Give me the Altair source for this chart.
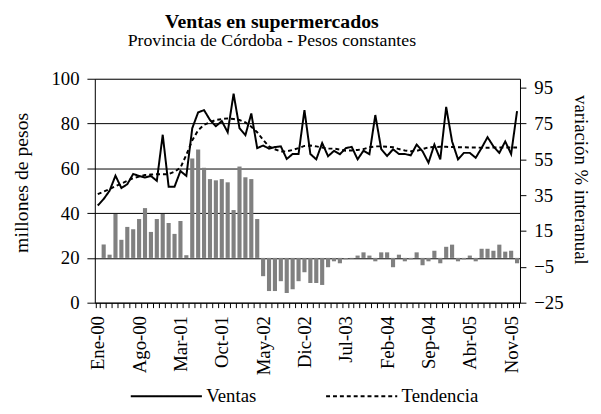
import altair as alt
import pandas as pd

meses = ["Ene", "Feb", "Mar", "Abr", "May", "Jun", "Jul", "Ago", "Sep", "Oct", "Nov", "Dic"]
anios = ["00", "01", "02", "03", "04", "05"]

ventas = [43.4, 46.3, 50.0, 56.7, 51.2, 52.9, 57.5, 56.6, 55.9, 56.6, 54.4, 75.0,
          51.8, 51.8, 58.8, 56.6, 77.9, 85.0, 86.0, 81.6, 78.8, 81.1, 76.1, 93.3,
          77.9, 74.8, 84.5, 69.0, 70.2, 68.8, 69.5, 69.8, 64.2, 66.4, 66.4, 86.0,
          66.4, 64.0, 71.3, 65.4, 67.8, 66.3, 69.0, 69.6, 64.0, 67.9, 66.3, 83.8,
          68.6, 65.5, 68.5, 66.4, 66.4, 65.8, 70.6, 67.6, 62.5, 70.6, 64.0, 87.4,
          72.0, 64.0, 66.9, 66.9, 64.7, 69.1, 73.9, 69.8, 66.9, 72.0, 66.4, 85.5]

tendencia = [48.5, 49.6, 50.7, 52.0, 53.2, 54.4, 55.6, 56.3, 57.0, 57.2, 57.4, 57.4,
             57.4, 58.5, 60.3, 66.0, 72.5, 77.0, 79.4, 80.6, 81.6, 82.0, 82.3, 82.0,
             81.6, 80.5, 78.6, 76.1, 72.7, 69.8, 68.5, 67.5, 67.6, 68.2, 69.0, 70.0,
             70.2, 69.8, 69.3, 68.8, 68.8, 68.4, 67.9, 68.0, 68.2, 68.6, 69.4, 69.8,
             69.8, 69.6, 69.4, 68.6, 68.0, 67.6, 67.8, 68.6, 69.4, 69.5, 69.6, 69.6,
             69.5, 69.4, 69.4, 69.3, 69.3, 69.2, 69.2, 69.3, 69.3, 69.3, 69.3, 69.3]

variacion = [None, 7.5, 1.8, 24.5, 10.1, 17.3, 16.0, 21.7, 27.8, 14.5, 21.7, 24.5,
             19.5, 13.4, 20.6, 1.5, 55.5, 60.5, 50.3, 44.0, 43.3, 44.0, 42.2, 26.7,
             51.0, 45.0, 44.0, 21.7, -10.2, -18.5, -18.5, -13.0, -19.6, -17.5, -13.0, -8.0,
             -14.0, -14.0, -15.1, -5.2, -1.9, -3.0, -0.8, -0.4, 1.3, 3.1, 1.3, -1.9,
             3.1, 3.1, -5.2, 1.8, -1.9, -0.8, 3.1, -4.1, -1.9, 4.0, -3.0, 6.2,
             7.4, -1.9, -0.8, 1.3, -1.9, 5.1, 5.1, 4.0, 7.4, 3.5, 4.0, -3.0]

periodos = [f"{m}-{a}" for a in anios for m in meses]
etiquetas = periodos[::7]

df = pd.DataFrame({
    "periodo": periodos,
    "Ventas": ventas,
    "Tendencia": tendencia,
    "variacion": variacion,
})

FONT = "Liberation Serif"
shown = "[" + ",".join(f"'{e}'" for e in etiquetas) + "]"

x_enc = alt.X(
    "periodo:N",
    sort=periodos,
    scale=alt.Scale(paddingInner=0.3, paddingOuter=0.15),
    axis=alt.Axis(
        title=None,
        labelAngle=-90,
        labelExpr=f"indexof({shown}, datum.value) >= 0 ? datum.value : ''",
        labelOverlap=False,
        labelFont=FONT,
        labelFontSize=19,
        labelColor="black",
        labelPadding=8,
        tickBand="extent",
        tickSize=5,
        tickColor="black",
        domainColor="black",
        grid=False,
    ),
)

bars = alt.Chart(df).mark_bar(color="#808080").encode(
    x=x_enc,
    y=alt.Y(
        "variacion:Q",
        scale=alt.Scale(domain=[-25, 100], nice=False),
        axis=alt.Axis(
            orient="right",
            values=[-25, -5, 15, 35, 55, 75, 95],
            title="variación % interanual",
            titleFont=FONT,
            titleFontSize=19,
            titleFontWeight="normal",
            titleColor="black",
            titlePadding=8,
            titleY=102,
            labelFont=FONT,
            labelFontSize=19,
            labelColor="black",
            labelPadding=8,
            tickSize=6,
            tickColor="black",
            domainColor="black",
            grid=False,
        ),
    ),
)

lines = alt.Chart(df).transform_fold(
    ["Ventas", "Tendencia"], as_=["serie", "valor"]
).mark_line(color="black", strokeWidth=2).encode(
    x=x_enc,
    y=alt.Y(
        "valor:Q",
        scale=alt.Scale(domain=[0, 100], nice=False),
        axis=alt.Axis(
            orient="left",
            values=[0, 20, 40, 60, 80, 100],
            title="millones de pesos",
            titleFont=FONT,
            titleFontSize=20,
            titleFontWeight="normal",
            titleColor="black",
            titlePadding=20,
            titleY=105,
            labelFont=FONT,
            labelFontSize=19,
            labelColor="black",
            labelPadding=8,
            tickSize=8,
            tickColor="black",
            domainColor="black",
            grid=True,
            gridColor="black",
            gridWidth=1,
        ),
    ),
    strokeDash=alt.StrokeDash(
        "serie:N",
        scale=alt.Scale(domain=["Ventas", "Tendencia"], range=[[1, 0], [4, 3]]),
        legend=alt.Legend(
            title=None,
            orient="none",
            legendX=35,
            legendY=284,
            direction="horizontal",
            symbolType="stroke",
            symbolSize=5200,
            symbolStrokeWidth=2,
            symbolStrokeColor="black",
            labelFont=FONT,
            labelFontSize=19,
            labelColor="black",
            labelOffset=3,
            columnPadding=66,
        ),
    ),
)

chart = alt.layer(bars, lines).resolve_scale(y="independent").properties(
    width=431,
    height=227,
    padding={"left": 88, "top": 69, "right": 74, "bottom": 102},
    autosize=alt.AutoSizeParams(type="none"),
    title=alt.TitleParams(
        "Ventas en supermercados",
        subtitle="Provincia de Córdoba - Pesos constantes",
        font=FONT,
        fontSize=20,
        fontWeight="bold",
        color="black",
        subtitleFont=FONT,
        subtitleFontSize=18,
        subtitleColor="black",
        subtitlePadding=0,
        anchor="middle",
        dx=-36,
        offset=20,
    ),
).configure_view(stroke=None).configure(background="white")

chart.save("out.html", embed_options={"renderer": "svg", "actions": False})
